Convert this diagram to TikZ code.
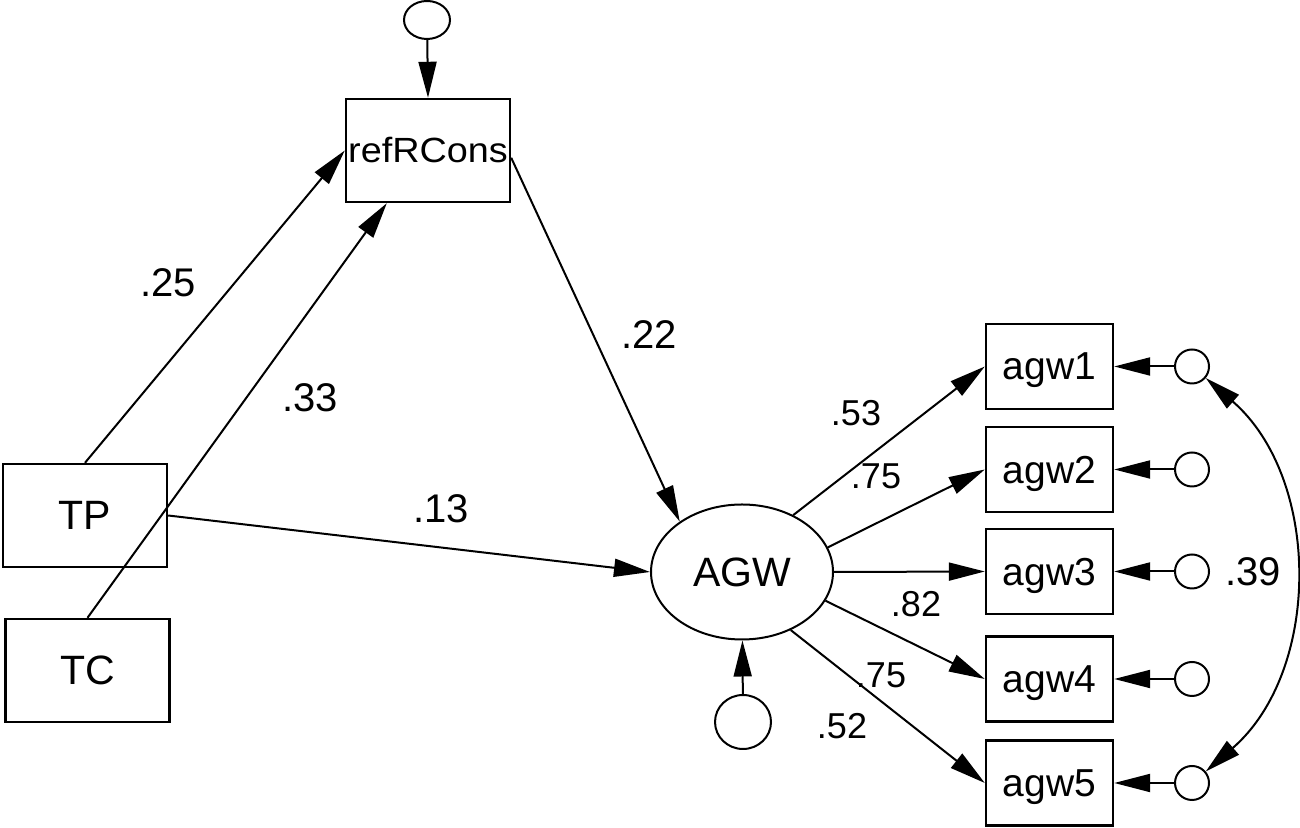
\documentclass[tikz,border=0pt]{standalone}
\usepackage{fontspec}
\setmainfont{Liberation Sans}
\usepackage{tikz}
\usetikzlibrary{arrows.meta,shapes.geometric}

\begin{document}
\begin{tikzpicture}[x=0.5pt,y=0.5pt]

        \tikzset{
            var/.style={draw, rectangle, line width=1.2pt, inner sep=0pt, minimum width=82pt, minimum height=51.5pt, font=\fontsize{20.5}{22}\selectfont},
            var_obs/.style={var, minimum width=63.5pt, minimum height=42.5pt, text depth=0pt, font=\fontsize{19.5}{21}\selectfont},
            latent/.style={draw, ellipse, line width=1pt, inner sep=0pt, minimum width=91pt, minimum height=67.5pt, font=\fontsize{20.5}{22}\selectfont},
            err/.style={draw, ellipse, line width=1pt, inner sep=0pt, minimum width=17pt, minimum height=17pt},
            coef/.style={font=\fontsize{20}{22}\selectfont},
            coef_small/.style={font=\fontsize{18}{20}\selectfont},
            connect/.style={-{Triangle[length=18pt,width=9pt]}, line width=1pt},
            covar/.style={{Triangle[length=18pt,width=9pt]}-{Triangle[length=18pt,width=9pt]}, line width=1pt}
        }

        \useasboundingbox (0,0) rectangle (1300,828);

        \node[var] (refRCons) at (428, 677.5) {\fontsize{17.5}{19}\selectfont\scalebox{1.08}[1]{refRCons}};
        \node[err, minimum width=23pt, minimum height=19pt] (e_ref) at (427, 808) {};

        \node[var] (TP) at (85, 312.5) {TP};
        \node[var] (TC) at (87.5, 157.5) {TC};

        \node[latent] (AGW) at (742, 256) {AGW};
        \node[err, minimum width=28pt, minimum height=27pt] (e_AGW) at (743, 106) {};

        \foreach \i/\y in {1/461.5, 2/358.5, 3/256.5, 4/149, 5/45} {
            \node[var_obs] (agw\i) at (1049.5, \y) {agw\i};
            \node[err] (e\i) at (1192, \y) {};
            \draw[connect] (e\i) -- (agw\i);
        }

        \foreach \i/\a in {1/48, 2/16, 3/0, 4/-19, 5/-50} {
            \draw[connect] (AGW.\a) -- (agw\i.west);
        }

        \draw[connect] (e_ref) -- (refRCons.north);
        \draw[connect] (e_AGW) -- (AGW);
        \draw[connect] (TP.north) -- (refRCons.west);
        \draw[connect] (TC.north) -- (refRCons.-128);
        \draw[connect] (refRCons.-5) -- (AGW.141);
        \draw[connect] (TP.east) -- (AGW.west);
        \draw[covar] (e1.-40) to[out=-41, in=41] (e5.40);

        \node[coef] (c25) at (168, 545) {.25};
        \node[coef] (c33) at (310, 430) {.33};
        \node[coef] (c22) at (649, 493) {.22};
        \node[coef] (c13) at (441, 319) {.13};
        \node[coef_small] (c53) at (856, 415) {.53};
        \node[coef_small] (c75a) at (876, 352) {.75};
        \node[coef_small] (c82) at (916, 224) {.82};
        \node[coef_small] (c75b) at (881, 153) {.75};
        \node[coef_small] (c52) at (842, 102) {.52};
        \node[coef] (c39) at (1253, 256) {.39};

    \end{tikzpicture}
\end{document}
